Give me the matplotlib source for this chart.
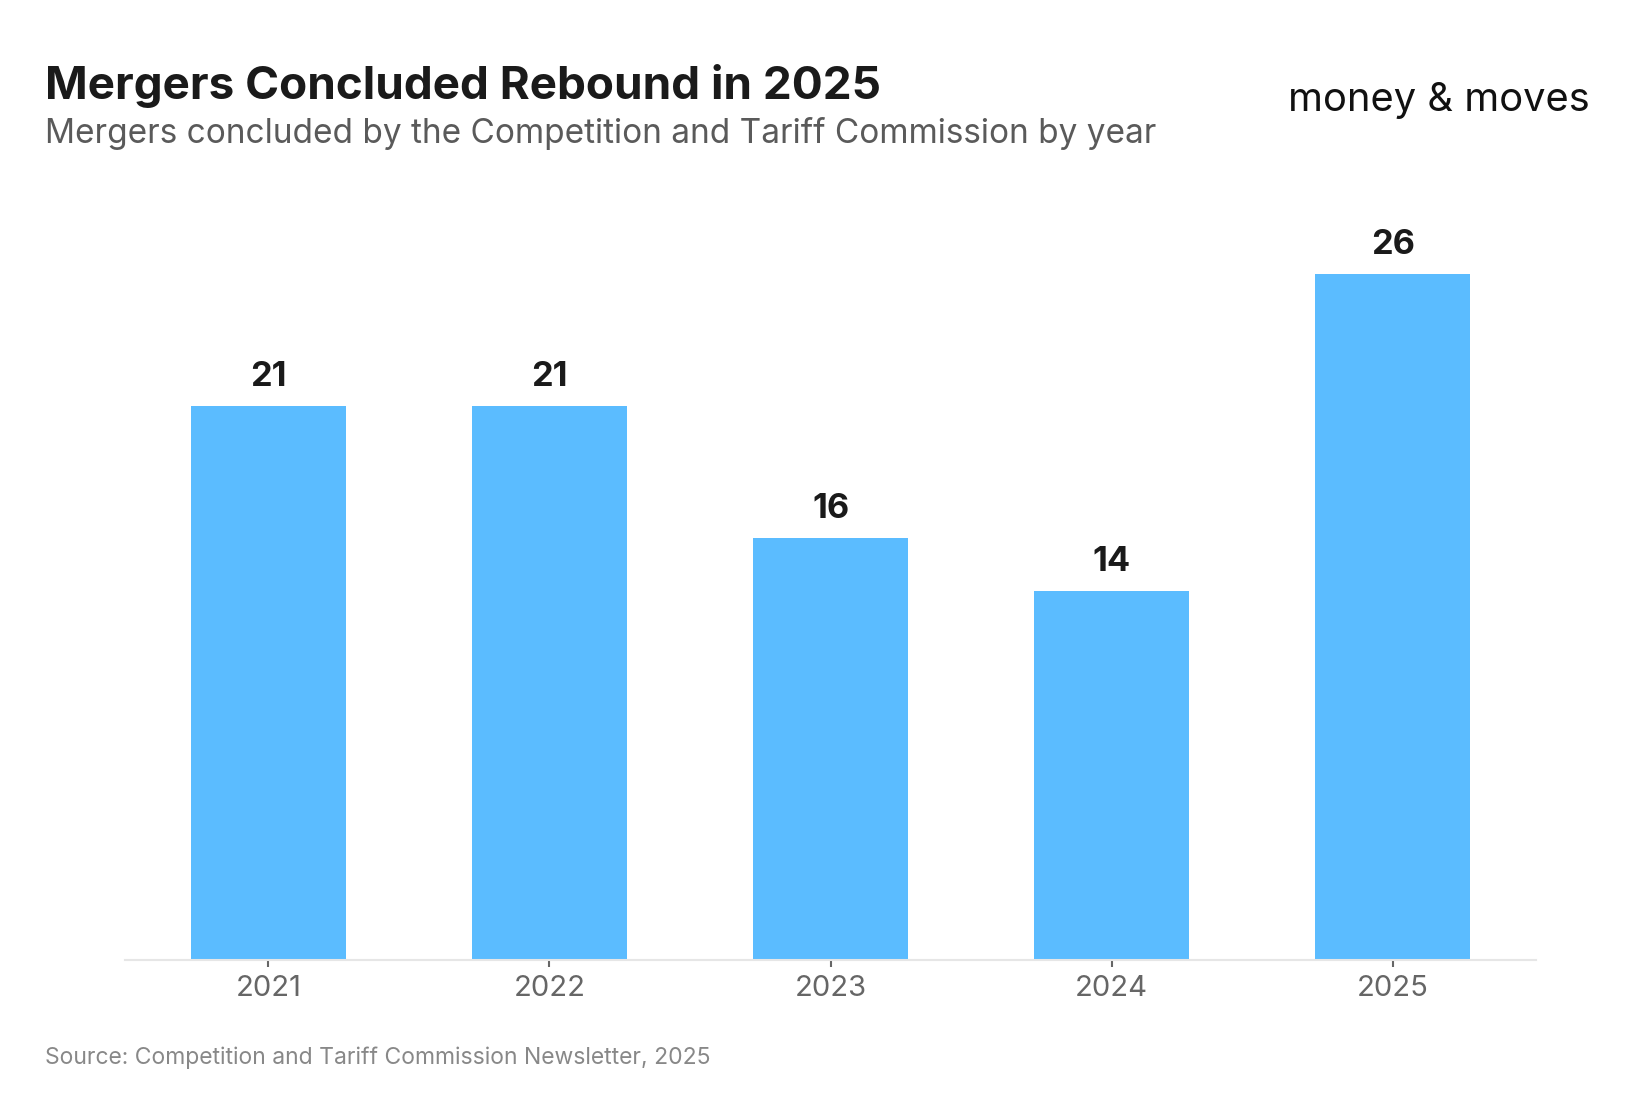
import matplotlib.pyplot as plt

# Данные
years = ['2021', '2022', '2023', '2024', '2025']
mergers = [21, 21, 16, 14, 26]

plt.rcParams['font.family'] = ['Inter', 'DejaVu Sans']

W, H = 1637, 1113
fig = plt.figure(figsize=(W / 100, H / 100), dpi=100)

# оси: x от 125 до 1536 px, y от 960 (низ) до 200 (верх)
ax = fig.add_axes([125 / W, 1 - 960 / H, (1536 - 125) / W, (960 - 200) / H])
x = range(len(years))
bars = ax.bar(x, mergers, width=0.55, color='#5bbcff', zorder=2)
ax.set_xlim(-0.51, 4.51)
ax.set_ylim(0, 28.8)

for b, v in zip(bars, mergers):
    ax.annotate(str(v), (b.get_x() + b.get_width() / 2, v), xytext=(0, 13),
                textcoords='offset pixels', ha='center', va='bottom',
                fontsize=24.7, fontweight='bold', color='#1a1a1a')

ax.set_xticks(list(x))
ax.set_xticklabels(years, fontsize=21, color='#666666')
ax.tick_params(axis='x', length=5, width=1.5, color='#666666', pad=6)
ax.set_yticks([])
for s in ['top', 'right', 'left']:
    ax.spines[s].set_visible(False)
ax.spines['bottom'].set_color('#e6e6e6')
ax.spines['bottom'].set_linewidth(1.5)

fig.text(45 / W, 1 - 99 / H, 'Mergers Concluded Rebound in 2025', fontsize=33,
         fontweight='bold', color='#1a1a1a', va='baseline')
fig.text(45 / W, 1 - 143 / H, 'Mergers concluded by the Competition and Tariff Commission by year',
         fontsize=24, color='#5a5a5a', va='baseline')
fig.text(45 / W, 1 - 1064 / H, 'Source: Competition and Tariff Commission Newsletter, 2025',
         fontsize=16.5, color='#888888', va='baseline')
fig.text(1590 / W, 1 - 111 / H, 'money & moves', fontsize=28.7, color='#111111',
         ha='right', va='baseline')

fig.savefig('out.png', dpi=100, facecolor='white')
